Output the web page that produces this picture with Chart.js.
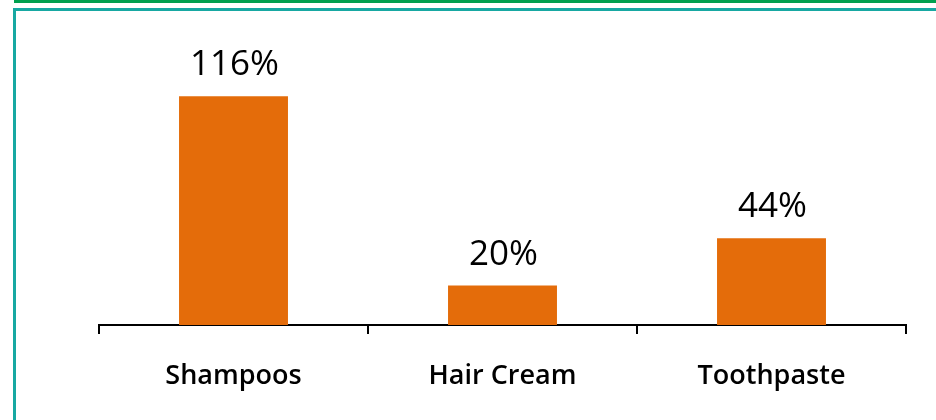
<!DOCTYPE html>
<html>
<head>
<meta charset="utf-8">
<script src="https://cdn.jsdelivr.net/npm/chart.js@4/dist/chart.umd.min.js"></script>
<style>
  html, body { margin: 0; padding: 0; background: #fff; }
  #wrap { position: relative; width: 936px; height: 420px; overflow: hidden; }
  #topbar { position: absolute; left: 14px; top: 0; width: 922px; height: 3px; background: #00A04F; }
  #frame { position: absolute; left: 13px; top: 8px; width: 930px; height: 420px;
           border-top: 3px solid #17A8A2; border-left: 3px solid #17A8A2; box-sizing: border-box; }
  canvas { position: absolute; left: 0; top: 0; }
</style>
</head>
<body>
<div id="wrap">
  <div id="topbar"></div>
  <div id="frame"></div>
  <canvas id="growthChart" width="936" height="420"></canvas>
</div>
<script>
// Chart data
const categories = ['Shampoos', 'Hair Cream', 'Toothpaste'];
const growthValues = [116, 20, 44];
const valueLabels = ['116%', '20%', '44%'];

// Draw value labels above each bar
const valueLabelPlugin = {
    id: 'valueLabels',
    afterDatasetsDraw(chart) {
        const ctx = chart.ctx;
        const meta = chart.getDatasetMeta(0);
        ctx.save();
        ctx.fillStyle = '#000';
        ctx.font = '35px "Open Sans"';
        ctx.textAlign = 'center';
        ctx.textBaseline = 'alphabetic';
        meta.data.forEach((bar, i) => {
            ctx.fillText(valueLabels[i], bar.x + 1, bar.y - 21);
        });
        ctx.restore();
    }
};

const ctx = document.getElementById('growthChart').getContext('2d');
const growthChart = new Chart(ctx, {
    type: 'bar',
    data: {
        labels: categories,
        datasets: [{
            data: growthValues,
            backgroundColor: '#E46C0A',
            borderWidth: 0,
            categoryPercentage: 1,
            barPercentage: 0.405
        }]
    },
    options: {
        responsive: false,
        animation: false,
        layout: {
            padding: { left: 99, right: 30, top: 49, bottom: 0 }
        },
        plugins: {
            legend: { display: false },
            tooltip: { enabled: false }
        },
        scales: {
            y: {
                display: false,
                min: 0,
                max: 140
            },
            x: {
                afterFit: scale => { scale.height = 95; },
                border: { color: '#000', width: 2 },
                grid: {
                    drawOnChartArea: false,
                    color: '#000',
                    lineWidth: 2,
                    tickLength: 9,
                    offset: true
                },
                ticks: {
                    color: '#000',
                    padding: 26,
                    font: { family: '"Open Sans"', size: 27, weight: '600' }
                }
            }
        }
    },
    plugins: [valueLabelPlugin]
});
</script>
</body>
</html>
